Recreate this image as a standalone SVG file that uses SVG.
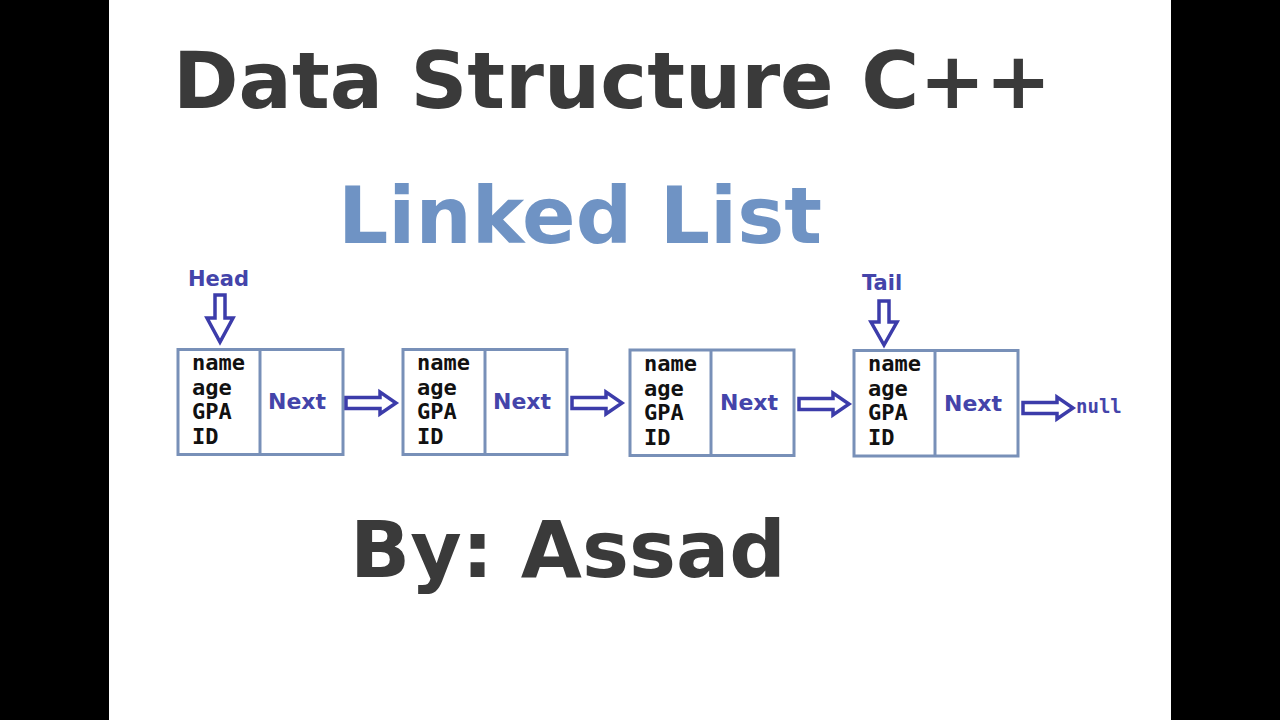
<svg xmlns="http://www.w3.org/2000/svg" width="1280" height="720" viewBox="0 0 1280 720">
<defs>
<style>
.title{font-family:"DejaVu Sans",Verdana,sans-serif;font-weight:bold;font-size:79px;}
.box{fill:#ffffff;stroke:#7890b8;stroke-width:3;}
.field{font-family:"DejaVu Sans Mono","Liberation Mono",monospace;font-weight:bold;font-size:22px;fill:#111111;}
.next{font-family:"DejaVu Sans",Verdana,sans-serif;font-weight:bold;font-size:22px;fill:#4444aa;}
.lbl{font-family:"DejaVu Sans",Verdana,sans-serif;font-weight:bold;font-size:21px;fill:#4444aa;}
.arrow{fill:#ffffff;stroke:#3c3caa;stroke-width:3.5;stroke-linejoin:miter;}
.null{font-family:"DejaVu Sans Mono","Liberation Mono",monospace;font-weight:bold;font-size:19px;fill:#4444aa;}
</style>
</defs>
<rect x="0" y="0" width="1280" height="720" fill="#000000"/>
<rect x="109" y="0" width="1062" height="720" fill="#ffffff"/>

<g id="titles">
<text class="title" x="173" y="108" fill="#3a3a3a">Data Structure C++</text>
<text class="title" x="338" y="243" fill="#6f93c4">Linked List</text>
<text class="title" x="350" y="577" fill="#3a3a3a">By: Assad</text>
</g>

<g id="head">
<text class="lbl" x="188" y="286">Head</text>
<path class="arrow" d="M215,295 H225 V318 H233 L220,342 L207,318 H215 Z"/>
</g>
<g id="tail">
<text class="lbl" x="862" y="290">Tail</text>
<path class="arrow" d="M879,301 H889 V322 H897 L884,345 L871,322 H879 Z"/>
</g>

<g id="node1">
<rect class="box" x="178" y="349.5" width="165" height="105"/>
<line class="box" x1="260" y1="349.5" x2="260" y2="454.5"/>
<text class="field" x="192" y="370">name</text>
<text class="field" x="192" y="395">age</text>
<text class="field" x="192" y="419">GPA</text>
<text class="field" x="192" y="444">ID</text>
<text class="next" x="268" y="409">Next</text>
</g>
<g id="node2">
<rect class="box" x="403" y="349.5" width="164" height="105"/>
<line class="box" x1="485" y1="349.5" x2="485" y2="454.5"/>
<text class="field" x="417" y="370">name</text>
<text class="field" x="417" y="395">age</text>
<text class="field" x="417" y="419">GPA</text>
<text class="field" x="417" y="444">ID</text>
<text class="next" x="493" y="409">Next</text>
</g>
<g id="node3">
<rect class="box" x="630" y="350" width="164" height="105.5"/>
<line class="box" x1="711" y1="350" x2="711" y2="455.5"/>
<text class="field" x="644" y="371">name</text>
<text class="field" x="644" y="396">age</text>
<text class="field" x="644" y="420">GPA</text>
<text class="field" x="644" y="445">ID</text>
<text class="next" x="720" y="410">Next</text>
</g>
<g id="node4">
<rect class="box" x="854" y="350.5" width="164" height="105.5"/>
<line class="box" x1="935" y1="350.5" x2="935" y2="456"/>
<text class="field" x="868" y="371">name</text>
<text class="field" x="868" y="396">age</text>
<text class="field" x="868" y="420">GPA</text>
<text class="field" x="868" y="445">ID</text>
<text class="next" x="944" y="411">Next</text>
</g>

<g id="connectors">
<path class="arrow" d="M346,397.5 H380 V392 L396,403 L380,414 V408.5 H346 Z"/>
<path class="arrow" d="M572,397.5 H606 V392 L622,403 L606,414 V408.5 H572 Z"/>
<path class="arrow" d="M799,398.5 H833 V393 L849,404 L833,415 V409.5 H799 Z"/>
<path class="arrow" d="M1023,402.5 H1057 V397 L1073,408 L1057,419 V413.5 H1023 Z"/>
<text class="null" x="1076" y="413">null</text>
</g>
</svg>
